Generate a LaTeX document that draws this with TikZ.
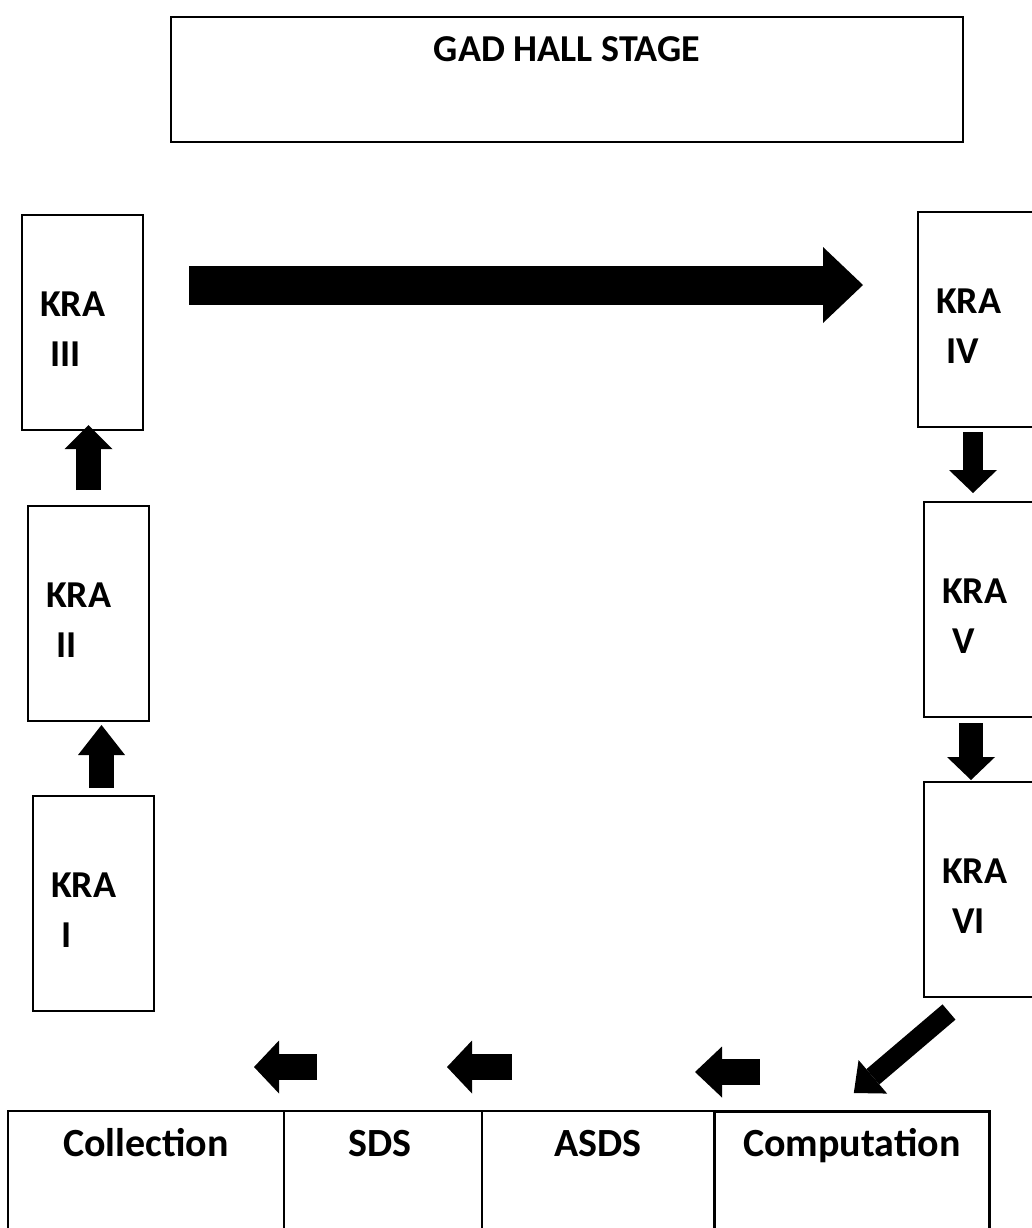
\documentclass[tikz,border=0pt]{standalone}
\usepackage{fontspec}
\setmainfont{Carlito}
\usetikzlibrary{arrows.meta,calc}

\begin{document}
\begin{tikzpicture}[x=1pt,y=-1pt,
  box/.style={draw=black, line width=2pt, rectangle, inner sep=0pt, anchor=north west},
  kracol/.style={box, minimum width=121pt, minimum height=215pt},
  cell/.style={box, minimum height=160pt},
  kratxt/.style={anchor=base west, inner sep=0pt, font=\fontsize{38}{38}\selectfont\bfseries},
  celltxt/.style={anchor=base, inner sep=0pt, font=\fontsize{40}{40}\selectfont\bfseries},
  stagetxt/.style={anchor=base, inner sep=0pt, font=\fontsize{38}{38}\selectfont\bfseries},
  flow/.style n args={3}{draw=black, line width=#1, line cap=butt,
    -{Triangle[length=#2, width=#3, line width=0pt]}}]

% page and clipping window
\useasboundingbox (0,0) rectangle (1032,1228);
\fill[white] (0,0) rectangle (1032,1228);
\clip (0,0) rectangle (1032,1228);

% stage
\node[box, minimum width=792pt, minimum height=125pt] (stage) at (170,16) {};
\node[stagetxt] (stagelbl) at ($(stage.north)+(0,46)$) {GAD HALL STAGE};

% left column
\node[kracol] (kra3) at (21,214) {};
\node[kracol] (kra2) at (27,505) {};
\node[kracol] (kra1) at (32,795) {};
% right column (runs past the right edge)
\node[kracol, minimum width=124pt] (kra4) at (917,211) {};
\node[kracol, minimum width=124pt] (kra5) at (923,501) {};
\node[kracol, minimum width=124pt] (kra6) at (923,781) {};

\foreach \b/\n in {kra1/I, kra2/II, kra3/III, kra4/IV, kra5/V, kra6/VI}{
  \node[kratxt] (\b a) at ($(\b.north west)+(19,102)$) {KRA};
  \node[kratxt] (\b b) at ($(\b.north west)+(29,152)$) {\n};
}

% bottom row
\node[cell, minimum width=276pt] (coll) at (7,1110) {};
\node[cell, minimum width=198pt] (sds)  at (283,1110) {};
\node[cell, minimum width=232pt] (asds) at (481,1110) {};
\node[cell, minimum width=275pt, line width=2.6pt] (comp) at (713,1110) {};
\node[celltxt] (colltxt) at ($(coll.north)+(0,46)$) {Collection};
\node[celltxt] (sdstxt)  at ($(sds.north)+(-3,46)$) {SDS};
\node[celltxt] (asdstxt) at ($(asds.north)+(0,46)$) {ASDS};
\node[celltxt] (comptxt) at ($(comp.north)+(0,46)$) {Computation};

% flow arrows
\coordinate (arrowrow) at (0,285);
\draw[flow={25pt}{30pt}{47pt}, shorten <=7pt, shorten >=3pt]
  ($(kra1.north)+(8,0)$) -- ($(kra1.north |- kra2.south)+(8,0)$);
\draw[flow={25pt}{24pt}{48pt}, shorten <=15pt, shorten >=-6pt]
  (kra2.north) -- (kra2.north |- kra3.south);
\draw[flow={39pt}{40pt}{76pt}, shorten <=45pt, shorten >=54pt]
  (kra3.east |- arrowrow) -- (kra4.west |- arrowrow);
\draw[flow={20pt}{23pt}{48pt}, shorten <=4pt, shorten >=8pt]
  ($(kra4.south west)+(56,0)$) -- ($(kra4.south west |- kra5.north)+(56,0)$);
\draw[flow={24pt}{23pt}{48pt}, shorten <=5pt, shorten >=1pt]
  ($(kra5.south west)+(48,0)$) -- ($(kra5.south west |- kra6.north)+(48,0)$);
\draw[flow={20pt}{25pt}{44pt}]
  ($(kra6.south west)+(26,14)$) -- ($(comp.north)+(2,-17)$);
\draw[flow={26pt}{27pt}{51pt}]
  ($(comp.north west)+(47,-38)$) -- ($(asds.north east)+(-20,-38)$);
\draw[flow={26pt}{25pt}{53pt}]
  ($(asds.north west)+(31,-43)$) -- ($(sds.north east)+(-36,-43)$);
\draw[flow={26pt}{25pt}{53pt}]
  ($(sds.north west)+(34,-43)$) -- ($(coll.north east)+(-31,-43)$);
\end{tikzpicture}
\end{document}
